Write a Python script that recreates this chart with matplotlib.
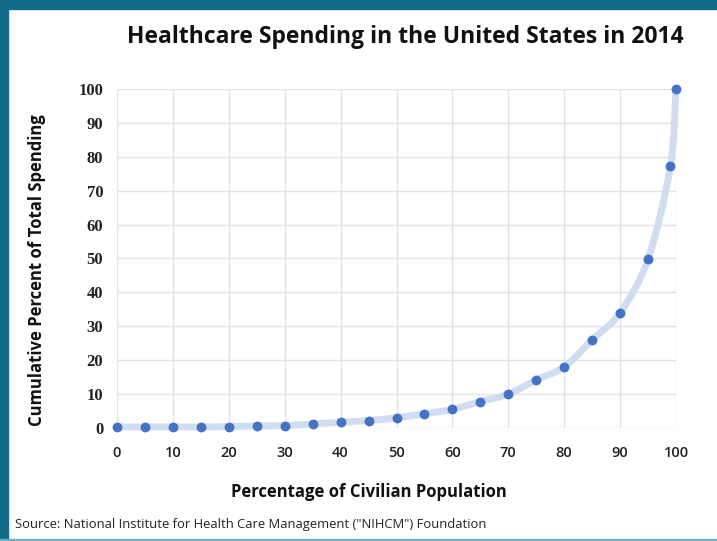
import numpy as np
import matplotlib.pyplot as plt
from matplotlib.path import Path
from matplotlib.patches import PathPatch, Rectangle

# data
population = [0, 5, 10, 15, 20, 25, 30, 35, 40, 45, 50, 55, 60, 65, 70, 75, 80, 85, 90, 95, 99, 100]
spending = [0.3, 0.3, 0.3, 0.3, 0.4, 0.6, 0.7, 1.2, 1.7, 2.2, 3.0, 4.2, 5.5, 7.8, 10.0, 14.2,
            18.0, 26.0, 34.0, 49.8, 77.2, 100.0]
ticks = list(range(0, 101, 10))

title = 'Healthcare Spending in the United States in 2014'
xlabel = 'Percentage of Civilian Population'
ylabel = 'Cumulative Percent of Total Spending'
source = 'Source: National Institute for Health Care Management ("NIHCM") Foundation'

sans = ['Open Sans', 'DejaVu Sans']
serif = ['Liberation Serif', 'DejaVu Serif']


def smooth_path(x, y, k=1 / 6):
    """Excel-like smoothed line as a Bezier path through the points."""
    x = np.asarray(x, float)
    y = np.asarray(y, float)
    verts = [(x[0], y[0])]
    codes = [Path.MOVETO]
    n = len(x)
    for i in range(n - 1):
        p0 = np.array([x[max(i - 1, 0)], y[max(i - 1, 0)]])
        p1 = np.array([x[i], y[i]])
        p2 = np.array([x[i + 1], y[i + 1]])
        p3 = np.array([x[min(i + 2, n - 1)], y[min(i + 2, n - 1)]])
        c1 = p1 + (p2 - p0) * k
        c2 = p2 - (p3 - p1) * k
        verts += [tuple(c1), tuple(c2), tuple(p2)]
        codes += [Path.CURVE4] * 3
    return Path(verts, codes)


fig = plt.figure(figsize=(7.17, 5.41), dpi=100)
fig.patch.set_facecolor('white')

# frame decoration (teal border)
fig.add_artist(Rectangle((0, 0.983), 1, 0.017, transform=fig.transFigure,
                         color='#136b8a', zorder=5))
fig.add_artist(Rectangle((0, 0), 0.011, 1, transform=fig.transFigure,
                         color='#136b8a', zorder=5))
fig.add_artist(Rectangle((0, 0), 1, 0.004, transform=fig.transFigure,
                         color='#6fb1c6', zorder=5))

ax = fig.add_axes([0.1632, 0.2089, 0.7796, 0.6266])
ax.set_xlim(0, 100)
ax.set_ylim(0, 100)
ax.set_xticks(ticks)
ax.set_yticks(ticks)
ax.grid(True, color='#e3e3e3', linewidth=1.0)
ax.set_axisbelow(True)
for s in ax.spines.values():
    s.set_visible(False)
ax.tick_params(axis='x', length=0, pad=13)
ax.tick_params(axis='y', length=0, pad=10)

for lab in ax.get_yticklabels():
    lab.set_family(serif)
    lab.set_fontweight('bold')
    lab.set_fontsize(12)
    lab.set_color('#222222')
for lab in ax.get_xticklabels():
    lab.set_family(sans)
    lab.set_fontsize(10.5)
    lab.set_fontweight('semibold')
    lab.set_color('#222222')

ax.add_patch(PathPatch(smooth_path(population, spending), fill=False,
                       edgecolor='#d0dcf0', linewidth=5, capstyle='round',
                       joinstyle='round', clip_on=False, zorder=2))
ax.scatter(population, spending, s=50, color='#4472c4', zorder=3, clip_on=False,
           linewidths=0)

ax.set_xlabel(xlabel, family=sans, fontsize=12, fontweight='bold', color='#111111')
ax.xaxis.set_label_coords(0.451, -0.162)
ax.set_ylabel(ylabel, family=sans, fontsize=12, fontweight='bold', color='#111111')
ax.yaxis.set_label_coords(-0.127, 0.466)

fig.text(0.565, 0.931, title, family=sans, fontsize=16.5, fontweight='bold',
         ha='center', va='center', color='#111111')
fig.text(0.021, 0.031, source, family=sans, fontsize=9.4, ha='left', va='center',
         color='#222222')

fig.savefig('out.png', dpi=100, facecolor='white')
